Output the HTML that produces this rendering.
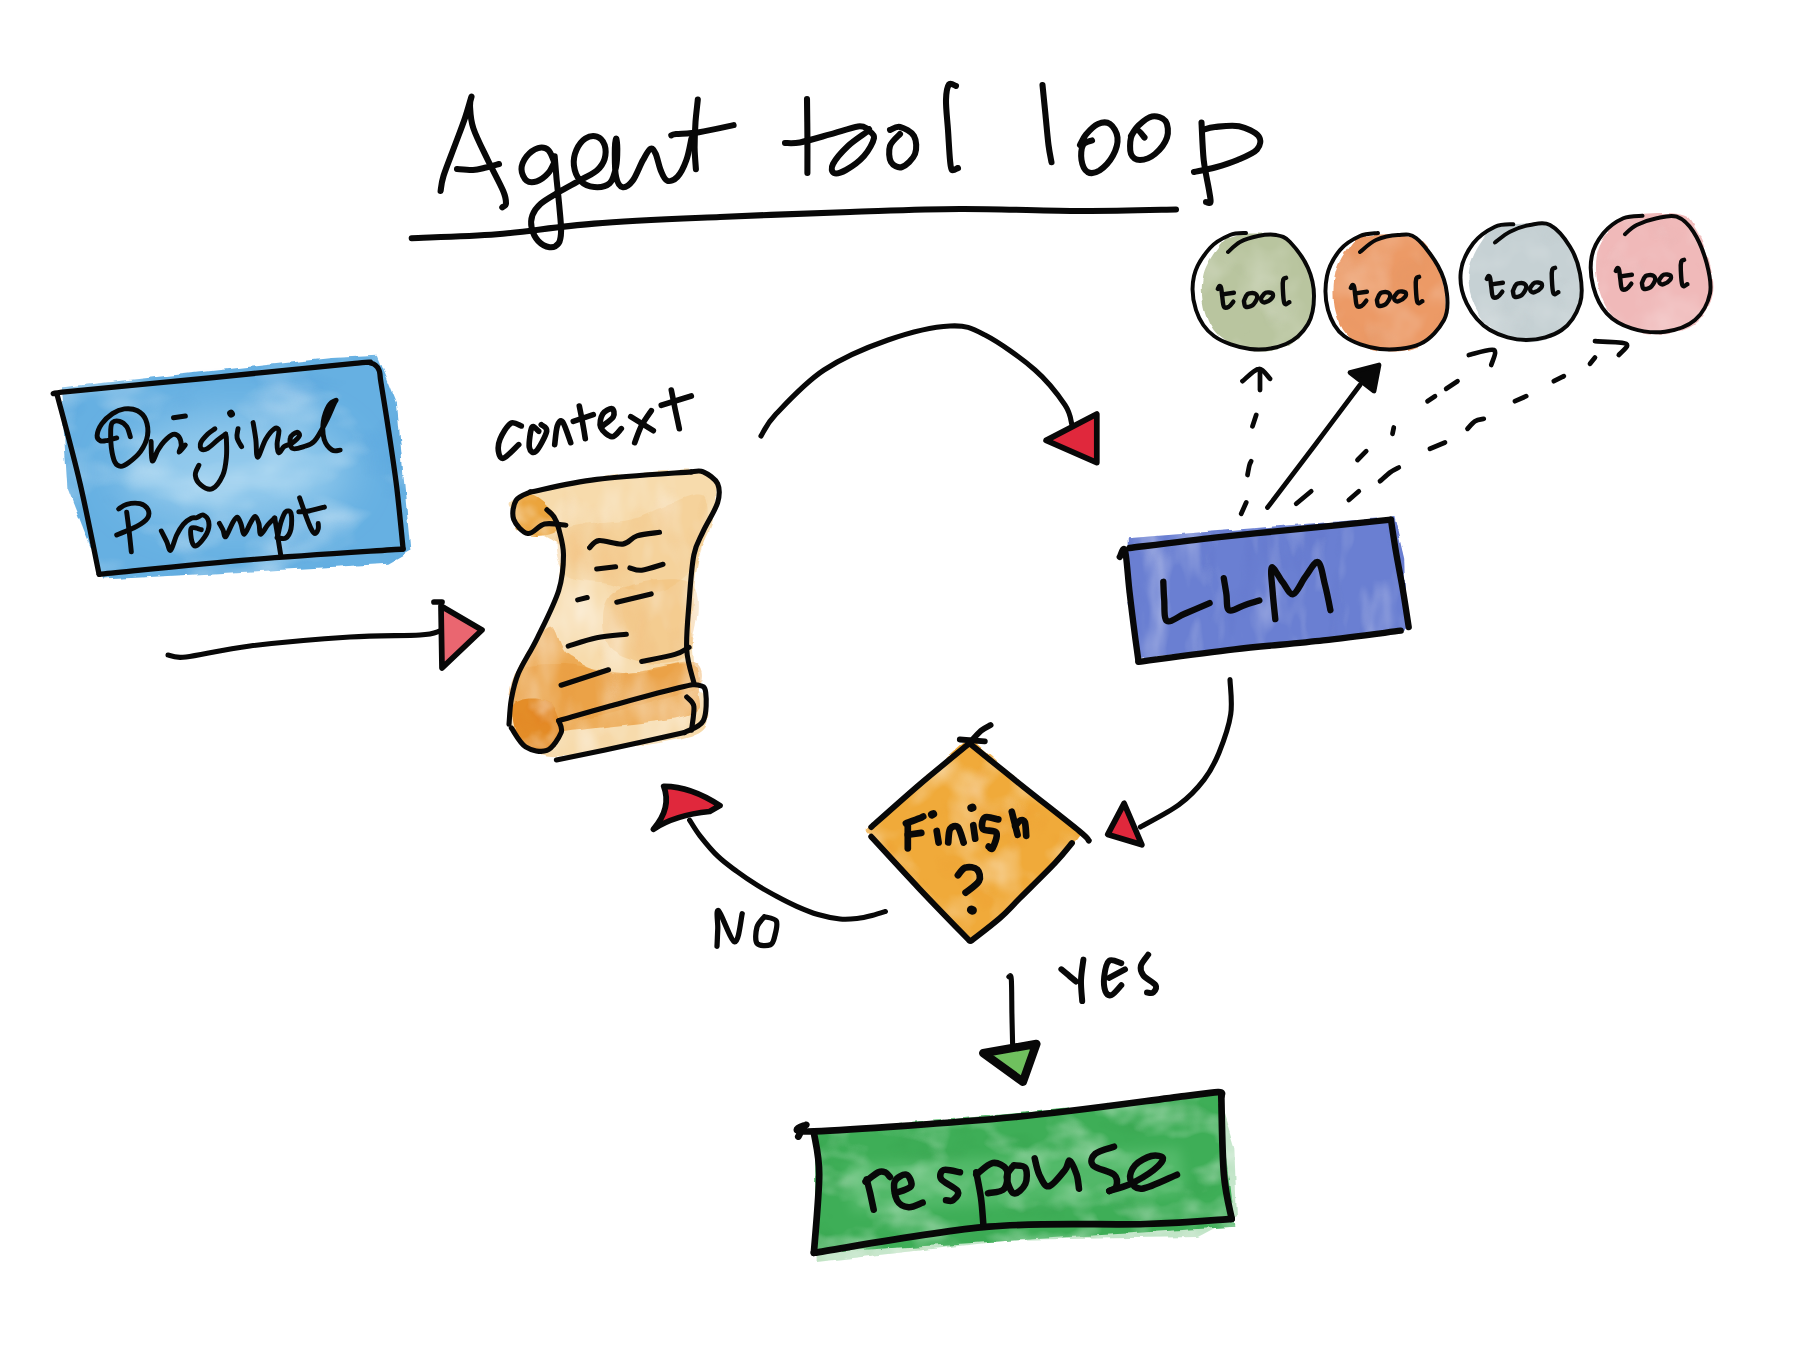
<!DOCTYPE html>
<html><head><meta charset="utf-8"><title>Agent tool loop</title>
<style>html,body{margin:0;padding:0;background:#fff;}body{width:1800px;height:1350px;overflow:hidden;font-family:"Liberation Sans",sans-serif;}svg{display:block;}</style>
</head><body>
<svg width="1800" height="1350" viewBox="0 0 1800 1350">
<defs><filter id="blur6" x="-20%" y="-50%" width="140%" height="200%"><feGaussianBlur stdDeviation="6"/></filter><filter id="blur20" x="-50%" y="-50%" width="200%" height="200%"><feGaussianBlur stdDeviation="22"/></filter>
<filter id="wcA" x="-10%" y="-10%" width="120%" height="120%" color-interpolation-filters="sRGB">
  <feTurbulence type="fractalNoise" baseFrequency="0.06" numOctaves="2" seed="3" result="edge"/>
  <feDisplacementMap in="SourceGraphic" in2="edge" scale="5" xChannelSelector="R" yChannelSelector="G" result="d"/>
  <feTurbulence type="fractalNoise" baseFrequency="0.03" numOctaves="3" seed="7" result="tex"/>
  <feColorMatrix in="tex" type="matrix" values="0 0 0 0 1  0 0 0 0 1  0 0 0 0 1  -1.1 0 0 0 0.6" result="w"/>
  <feComposite in="w" in2="d" operator="in" result="wd"/>
  <feComponentTransfer in="d" result="dk"><feFuncR type="linear" slope="0.99"/><feFuncG type="linear" slope="0.86"/><feFuncB type="linear" slope="0.7"/></feComponentTransfer>
  <feColorMatrix in="tex" type="matrix" values="0 0 0 0 0  0 0 0 0 0  0 0 0 0 0  0 1.0 0 0 -0.55" result="mk"/>
  <feComposite in="dk" in2="mk" operator="in" result="dkm"/>
  <feComposite in="dkm" in2="d" operator="in" result="dkm2"/>
  <feMerge><feMergeNode in="d"/><feMergeNode in="dkm2"/><feMergeNode in="wd"/></feMerge>
</filter>
<filter id="wcC" x="-10%" y="-10%" width="120%" height="120%" color-interpolation-filters="sRGB">
  <feTurbulence type="fractalNoise" baseFrequency="0.07" numOctaves="2" seed="5" result="edge"/>
  <feDisplacementMap in="SourceGraphic" in2="edge" scale="4" xChannelSelector="R" yChannelSelector="G" result="d"/>
  <feTurbulence type="fractalNoise" baseFrequency="0.02" numOctaves="3" seed="9" result="tex"/>
  <feColorMatrix in="tex" type="matrix" values="0 0 0 0 1  0 0 0 0 1  0 0 0 0 1  -0.6 0 0 0 0.33" result="w"/>
  <feComposite in="w" in2="d" operator="in" result="wd"/>
  <feComponentTransfer in="d" result="dk"><feFuncR type="linear" slope="0.9"/><feFuncG type="linear" slope="0.9"/><feFuncB type="linear" slope="0.9"/></feComponentTransfer>
  <feColorMatrix in="tex" type="matrix" values="0 0 0 0 0  0 0 0 0 0  0 0 0 0 0  0 0.5 0 0 -0.28" result="mk"/>
  <feComposite in="dk" in2="mk" operator="in" result="dkm"/>
  <feComposite in="dkm" in2="d" operator="in" result="dkm2"/>
  <feMerge><feMergeNode in="d"/><feMergeNode in="dkm2"/><feMergeNode in="wd"/></feMerge>
</filter>
<filter id="wcL" x="-10%" y="-10%" width="120%" height="120%" color-interpolation-filters="sRGB">
  <feTurbulence type="fractalNoise" baseFrequency="0.08" numOctaves="2" seed="9" result="edge"/>
  <feDisplacementMap in="SourceGraphic" in2="edge" scale="5" xChannelSelector="R" yChannelSelector="G" result="d"/>
  <feTurbulence type="fractalNoise" baseFrequency="0.035 0.012" numOctaves="3" seed="13" result="tex"/>
  <feColorMatrix in="tex" type="matrix" values="0 0 0 0 1  0 0 0 0 1  0 0 0 0 1  -0.9 0 0 0 0.45" result="w"/>
  <feComposite in="w" in2="d" operator="in" result="wd"/>
  <feComponentTransfer in="d" result="dk"><feFuncR type="linear" slope="0.88"/><feFuncG type="linear" slope="0.88"/><feFuncB type="linear" slope="0.95"/></feComponentTransfer>
  <feColorMatrix in="tex" type="matrix" values="0 0 0 0 0  0 0 0 0 0  0 0 0 0 0  0 1.0 0 0 -0.55" result="mk"/>
  <feComposite in="dk" in2="mk" operator="in" result="dkm"/>
  <feComposite in="dkm" in2="d" operator="in" result="dkm2"/>
  <feMerge><feMergeNode in="d"/><feMergeNode in="dkm2"/><feMergeNode in="wd"/></feMerge>
</filter>
<filter id="wcS" x="-10%" y="-10%" width="120%" height="120%" color-interpolation-filters="sRGB">
  <feTurbulence type="fractalNoise" baseFrequency="0.05" numOctaves="2" seed="11" result="edge"/>
  <feDisplacementMap in="SourceGraphic" in2="edge" scale="6" xChannelSelector="R" yChannelSelector="G" result="d"/>
  <feTurbulence type="fractalNoise" baseFrequency="0.025 0.012" numOctaves="3" seed="15" result="tex"/>
  <feColorMatrix in="tex" type="matrix" values="0 0 0 0 1  0 0 0 0 1  0 0 0 0 1  -1.1 0 0 0 0.6" result="w"/>
  <feComposite in="w" in2="d" operator="in" result="wd"/>
  <feComponentTransfer in="d" result="dk"><feFuncR type="linear" slope="0.99"/><feFuncG type="linear" slope="0.86"/><feFuncB type="linear" slope="0.7"/></feComponentTransfer>
  <feColorMatrix in="tex" type="matrix" values="0 0 0 0 0  0 0 0 0 0  0 0 0 0 0  0 1.0 0 0 -0.55" result="mk"/>
  <feComposite in="dk" in2="mk" operator="in" result="dkm"/>
  <feComposite in="dkm" in2="d" operator="in" result="dkm2"/>
  <feMerge><feMergeNode in="d"/><feMergeNode in="dkm2"/><feMergeNode in="wd"/></feMerge>
</filter>
<filter id="wcP" x="-10%" y="-10%" width="120%" height="120%" color-interpolation-filters="sRGB">
  <feTurbulence type="fractalNoise" baseFrequency="0.06" numOctaves="2" seed="13" result="edge"/>
  <feDisplacementMap in="SourceGraphic" in2="edge" scale="6" xChannelSelector="R" yChannelSelector="G" result="d"/>
  <feTurbulence type="fractalNoise" baseFrequency="0.012 0.02" numOctaves="3" seed="17" result="tex"/>
  <feColorMatrix in="tex" type="matrix" values="0 0 0 0 1  0 0 0 0 1  0 0 0 0 1  -1.1 0 0 0 0.6" result="w"/>
  <feComposite in="w" in2="d" operator="in" result="wd"/>
  <feComponentTransfer in="d" result="dk"><feFuncR type="linear" slope="0.8"/><feFuncG type="linear" slope="0.9"/><feFuncB type="linear" slope="0.97"/></feComponentTransfer>
  <feColorMatrix in="tex" type="matrix" values="0 0 0 0 0  0 0 0 0 0  0 0 0 0 0  0 1.0 0 0 -0.55" result="mk"/>
  <feComposite in="dk" in2="mk" operator="in" result="dkm"/>
  <feComposite in="dkm" in2="d" operator="in" result="dkm2"/>
  <feMerge><feMergeNode in="d"/><feMergeNode in="dkm2"/><feMergeNode in="wd"/></feMerge>
</filter>
<filter id="wcD" x="-10%" y="-10%" width="120%" height="120%" color-interpolation-filters="sRGB">
  <feTurbulence type="fractalNoise" baseFrequency="0.07" numOctaves="2" seed="17" result="edge"/>
  <feDisplacementMap in="SourceGraphic" in2="edge" scale="5" xChannelSelector="R" yChannelSelector="G" result="d"/>
  <feTurbulence type="fractalNoise" baseFrequency="0.02" numOctaves="3" seed="21" result="tex"/>
  <feColorMatrix in="tex" type="matrix" values="0 0 0 0 1  0 0 0 0 1  0 0 0 0 1  -1.1 0 0 0 0.6" result="w"/>
  <feComposite in="w" in2="d" operator="in" result="wd"/>
  <feComponentTransfer in="d" result="dk"><feFuncR type="linear" slope="0.99"/><feFuncG type="linear" slope="0.86"/><feFuncB type="linear" slope="0.7"/></feComponentTransfer>
  <feColorMatrix in="tex" type="matrix" values="0 0 0 0 0  0 0 0 0 0  0 0 0 0 0  0 1.0 0 0 -0.55" result="mk"/>
  <feComposite in="dk" in2="mk" operator="in" result="dkm"/>
  <feComposite in="dkm" in2="d" operator="in" result="dkm2"/>
  <feMerge><feMergeNode in="d"/><feMergeNode in="dkm2"/><feMergeNode in="wd"/></feMerge>
</filter>
<filter id="wcR" x="-10%" y="-10%" width="120%" height="120%" color-interpolation-filters="sRGB">
  <feTurbulence type="fractalNoise" baseFrequency="0.07" numOctaves="2" seed="21" result="edge"/>
  <feDisplacementMap in="SourceGraphic" in2="edge" scale="6" xChannelSelector="R" yChannelSelector="G" result="d"/>
  <feTurbulence type="fractalNoise" baseFrequency="0.02 0.03" numOctaves="3" seed="25" result="tex"/>
  <feColorMatrix in="tex" type="matrix" values="0 0 0 0 1  0 0 0 0 1  0 0 0 0 1  -1.1 0 0 0 0.6" result="w"/>
  <feComposite in="w" in2="d" operator="in" result="wd"/>
  <feComponentTransfer in="d" result="dk"><feFuncR type="linear" slope="0.85"/><feFuncG type="linear" slope="0.9"/><feFuncB type="linear" slope="0.85"/></feComponentTransfer>
  <feColorMatrix in="tex" type="matrix" values="0 0 0 0 0  0 0 0 0 0  0 0 0 0 0  0 1.0 0 0 -0.55" result="mk"/>
  <feComposite in="dk" in2="mk" operator="in" result="dkm"/>
  <feComposite in="dkm" in2="d" operator="in" result="dkm2"/>
  <feMerge><feMergeNode in="d"/><feMergeNode in="dkm2"/><feMergeNode in="wd"/></feMerge>
</filter></defs>
<rect width="1800" height="1350" fill="#fff"/>
<g><path d="M1236.1,234.9 C1226.0,237.1 1223.2,241.2 1217.7,248.2 C1212.2,255.2 1205.1,266.2 1203.0,276.7 C1200.8,287.3 1201.8,301.2 1204.8,311.4 C1207.9,321.6 1213.1,331.3 1221.4,337.9 C1229.7,344.6 1243.5,349.8 1254.5,351.2 C1265.5,352.6 1278.7,350.4 1287.6,346.1 C1296.5,341.9 1303.6,333.9 1307.9,325.7 C1312.2,317.5 1313.4,306.7 1313.4,297.1 C1313.4,287.6 1311.5,277.8 1307.9,268.6 C1304.2,259.4 1296.2,247.7 1291.3,242.1 C1286.4,236.5 1287.6,236.1 1278.4,234.9 C1269.2,233.7 1246.2,232.7 1236.1,234.9 Z" fill="#b9c59f" stroke="none" filter="url(#wcC)" />
<path d="M1365.1,235.9 C1353.4,237.9 1351.7,243.3 1346.7,250.1 C1341.6,256.9 1336.5,266.5 1334.7,276.7 C1332.9,286.9 1333.0,301.1 1335.6,311.3 C1338.2,321.5 1342.4,331.2 1350.3,337.9 C1358.3,344.5 1371.8,349.8 1383.5,351.1 C1395.1,352.5 1410.5,351.0 1420.3,346.0 C1430.1,341.1 1438.2,330.0 1442.3,321.5 C1446.5,313.0 1446.0,304.2 1445.1,295.0 C1444.2,285.8 1441.6,276.0 1436.8,266.5 C1432.1,256.9 1428.5,243.0 1416.6,237.9 C1404.6,232.8 1376.7,233.8 1365.1,235.9 Z" fill="#ec9a66" stroke="none" filter="url(#wcC)" />
<path d="M1500.2,226.6 C1488.5,229.7 1485.6,235.9 1480.3,243.6 C1475.1,251.2 1469.8,262.3 1468.8,272.5 C1467.8,282.7 1469.7,294.9 1474.2,304.8 C1478.7,314.7 1486.4,325.7 1495.6,332.0 C1504.8,338.2 1518.4,342.2 1529.4,342.2 C1540.4,342.2 1553.4,338.2 1561.6,332.0 C1569.8,325.7 1575.6,314.4 1578.4,304.8 C1581.3,295.1 1580.0,283.8 1578.4,274.2 C1576.9,264.5 1573.8,255.2 1569.2,247.0 C1564.6,238.8 1562.3,228.3 1550.8,224.9 C1539.3,221.5 1512.0,223.5 1500.2,226.6 Z" fill="#c6d1d4" stroke="none" filter="url(#wcC)" />
<path d="M1627.9,216.1 C1615.9,219.0 1613.4,225.0 1608.3,231.7 C1603.1,238.3 1598.5,246.7 1596.8,256.0 C1595.2,265.2 1596.0,277.3 1598.5,287.2 C1600.9,297.0 1605.3,307.7 1611.5,314.9 C1617.8,322.1 1626.5,327.3 1636.0,330.5 C1645.6,333.7 1658.3,335.4 1668.7,334.0 C1679.0,332.5 1690.7,328.5 1698.1,321.8 C1705.4,315.2 1710.9,303.9 1712.8,294.1 C1714.7,284.3 1712.2,273.6 1709.5,262.9 C1706.8,252.2 1701.4,238.0 1696.5,230.0 C1691.6,221.9 1691.6,216.7 1680.1,214.4 C1668.7,212.0 1639.8,213.2 1627.9,216.1 Z" fill="#f0b9b9" stroke="none" filter="url(#wcC)" />
<path d="M1127.8,538.2 L1394.4,516.9 L1404.2,558.7 L1406.0,631.6 L1138.4,659.1 L1126.9,592.4 Z" fill="#6a7fd2" stroke="none" filter="url(#wcL)" />
<path d="M516.1,497.9 C530.1,492.2 567.0,482.3 596.7,477.8 C626.3,473.2 674.1,469.7 693.9,470.7 C713.6,471.7 712.0,475.2 715.2,483.7 C718.3,492.2 715.6,509.0 712.8,521.6 C710.0,534.3 702.1,542.2 698.6,559.6 C695.0,576.9 691.9,605.0 691.5,625.9 C691.1,646.9 693.9,673.3 696.2,685.2 C698.6,697.0 705.3,689.1 705.7,697.0 C706.1,704.9 714.8,723.7 698.6,732.6 C682.4,741.5 632.2,746.4 608.5,750.4 C584.8,754.3 570.2,756.7 556.4,756.3 C542.5,755.9 533.3,753.1 525.6,748.0 C517.9,742.9 511.7,737.9 510.1,725.5 C508.6,713.0 509.2,692.3 516.1,673.3 C523.0,654.4 544.1,631.5 551.6,611.7 C559.1,592.0 561.9,567.5 561.1,554.8 C560.3,542.2 554.0,539.8 546.9,535.9 C539.8,531.9 524.2,535.1 518.4,531.1 C512.7,527.2 512.9,517.7 512.5,512.1 C512.1,506.6 502.0,503.7 516.1,497.9 Z" fill="#f7dbac" stroke="none" filter="url(#wcS)" />
<path d="M561.1,531.1 C572.2,522.0 608.5,525.2 632.2,519.3 C655.9,513.3 692.3,488.8 703.3,495.6 C714.4,502.3 706.5,543.4 698.6,559.6 C690.7,575.8 670.9,588.8 655.9,592.7 C640.9,596.7 623.5,586.4 608.5,583.3 C593.5,580.1 573.8,582.5 565.9,573.8 C558.0,565.1 550.0,540.2 561.1,531.1 Z" fill="#f3c887" stroke="none" filter="url(#wcS)" opacity="0.45"/>
<path d="M613.3,592.7 C627.1,582.5 678.8,573.8 691.5,583.3 C704.1,592.7 695.0,636.2 689.1,649.6 C683.2,663.1 669.4,664.6 655.9,663.9 C642.5,663.1 615.6,656.7 608.5,644.9 C601.4,633.0 599.4,603.0 613.3,592.7 Z" fill="#f1bb70" stroke="none" filter="url(#wcS)" opacity="0.45"/>
<path d="M518.4,668.6 C524.6,653.6 541.0,628.3 549.3,625.9 C557.6,623.6 557.6,646.5 568.2,654.4 C578.9,662.3 593.1,671.8 613.3,673.3 C633.4,674.9 674.9,660.7 689.1,663.9 C703.3,667.0 699.4,683.6 698.6,692.3 C697.8,701.0 707.3,709.3 684.4,716.0 C661.5,722.7 587.6,727.9 561.1,732.6 C534.6,737.3 533.7,747.2 525.6,744.4 C517.5,741.7 513.7,728.6 512.5,716.0 C511.3,703.4 512.3,683.6 518.4,668.6 Z" fill="#eda64c" stroke="none" filter="url(#wcS)" opacity="0.9"/>
<path d="M516.1,673.3 C524.0,663.9 541.8,663.9 561.1,663.9 C580.5,663.9 610.5,673.7 632.2,673.3 C654.0,672.9 680.8,659.1 691.5,661.5 C702.1,663.9 706.1,680.0 696.2,687.6 C686.3,695.1 654.7,700.6 632.2,706.5 C609.7,712.4 580.9,720.7 561.1,723.1 C541.4,725.5 521.2,729.0 513.7,720.7 C506.2,712.4 508.2,682.8 516.1,673.3 Z" fill="#ea9c3c" stroke="none" filter="url(#wcS)" opacity="0.55"/>
<path d="M512.5,505.0 C514.5,499.1 521.8,492.8 527.9,493.2 C534.0,493.6 544.1,501.5 549.3,507.4 C554.4,513.3 560.7,524.0 558.7,528.7 C556.8,533.5 544.5,535.9 537.4,535.9 C530.3,535.9 520.2,533.9 516.1,528.7 C511.9,523.6 510.5,511.0 512.5,505.0 Z" fill="#eba43c" stroke="none" filter="url(#wcA)" />
<path d="M513.7,704.1 C518.4,697.4 541.4,697.0 549.3,701.8 C557.2,706.5 561.5,724.5 561.1,732.6 C560.7,740.7 553.6,748.8 546.9,750.4 C540.2,752.0 526.3,749.8 520.8,742.1 C515.3,734.4 509.0,710.9 513.7,704.1 Z" fill="#e48d28" stroke="none" filter="url(#wcA)" />
<path d="M61.1,387.5 L331.3,357.9 L377.8,355.8 L396.8,403.3 L410.5,551.1 L388.3,563.8 L103.3,579.6 L67.4,487.8 Z" fill="#66b0e2" stroke="none" filter="url(#wcP)" />
<ellipse cx="235" cy="470" rx="115" ry="55" fill="#b5def4" opacity="0.55" filter="url(#blur20)"/>
<path d="M969.4,737.6 L1081.1,834.8 L1071.5,846.4 L971.3,943.1 L864.4,831.0 Z" fill="#f0aa3a" stroke="none" filter="url(#wcD)" />
<path d="M816.6,1135.3 L1218.6,1096.1 L1234.3,1148.3 L1236.9,1216.2 L1197.8,1237.1 L1015.0,1239.7 L816.6,1261.9 Z" fill="#8fd09a" stroke="none" filter="url(#wcA)" opacity="0.55"/>
<path d="M815.2,1131.4 L1218.6,1094.8 L1234.3,1226.7 L815.2,1252.8 Z" fill="#3eae57" stroke="none" filter="url(#wcR)" />
<path d="M848,1165 L1180,1148 L1186,1195 L852,1212 Z" fill="#6cc880" opacity="0.45" filter="url(#blur6)"/></g>
<g fill="none" stroke-linecap="round" stroke-linejoin="round"><path d="M440.6,191.0 C441.1,188.5 441.1,183.7 443.5,176.0 C445.9,168.3 451.4,154.7 455.0,145.0 C458.6,135.3 462.3,126.0 465.0,118.0 C467.7,110.0 470.6,99.0 471.4,97.0 C472.2,95.0 469.7,100.8 470.0,106.0 C470.3,111.2 470.4,119.4 473.4,128.4 C476.4,137.4 482.8,149.6 487.8,160.0 C492.8,170.4 500.2,183.8 503.2,191.0 C506.2,198.2 506.1,200.8 506.0,203.5 C505.9,206.2 502.9,206.7 502.3,207.3" stroke="#080808" stroke-width="6.07" />
<path d="M457.0,169.0 C459.7,169.2 468.2,170.2 473.0,170.0 C477.8,169.8 481.7,168.5 486.0,167.5 C490.3,166.5 496.8,164.6 499.0,164.0" stroke="#080808" stroke-width="6.07" />
<path d="M554.1,161.6 C553.1,159.6 551.0,152.3 548.3,150.1 C545.7,147.8 541.7,147.1 538.1,148.1 C534.5,149.2 529.4,152.9 526.6,156.4 C523.8,160.0 521.5,165.2 521.5,169.2 C521.5,173.3 524.1,178.7 526.6,180.7 C529.2,182.7 533.2,182.6 536.8,181.4 C540.5,180.1 545.4,176.4 548.3,173.1 C551.3,169.8 553.7,163.5 554.7,161.6" stroke="#080808" stroke-width="6.07" />
<path d="M554.7,156.4 C555.0,160.3 555.9,171.4 556.6,179.4 C557.4,187.5 558.4,196.5 559.2,205.0 C559.9,213.5 561.2,224.2 561.1,230.6 C561.0,236.9 560.5,240.6 558.6,243.3 C556.6,246.1 553.0,247.6 549.6,247.2 C546.2,246.7 541.1,244.0 538.1,240.8 C535.1,237.6 532.7,232.3 531.7,228.0 C530.8,223.7 530.9,219.3 532.4,215.2 C533.9,211.2 536.3,207.6 540.7,203.7 C545.0,199.9 551.7,196.3 558.6,192.2 C565.4,188.2 575.2,183.1 581.6,179.4 C587.9,175.8 593.1,173.9 596.9,170.5 C600.7,167.1 603.3,163.3 604.6,159.0 C605.8,154.7 605.8,148.7 604.6,144.9 C603.3,141.2 600.1,137.7 596.9,136.6 C593.7,135.6 588.8,136.3 585.4,138.6 C582.0,140.8 578.4,145.6 576.4,150.1 C574.5,154.5 573.3,160.3 573.9,165.4 C574.5,170.5 576.9,177.1 580.3,180.7 C583.7,184.3 589.4,186.7 594.3,187.1 C599.2,187.5 606.0,186.7 609.7,183.3 C613.3,179.9 614.8,172.4 616.1,166.7 C617.3,160.9 617.3,153.5 617.3,148.8 C617.3,144.1 616.5,137.7 616.1,138.6 C615.6,139.4 614.8,147.5 614.8,153.9 C614.8,160.3 614.8,171.4 616.1,176.9 C617.3,182.4 619.7,186.5 622.4,187.1 C625.2,187.8 629.3,185.2 632.7,180.7 C636.1,176.3 639.9,165.6 642.9,160.3 C645.9,155.0 648.4,149.8 650.6,148.8 C652.7,147.7 654.0,150.3 655.7,153.9 C657.4,157.5 658.9,166.0 660.8,170.5 C662.7,175.0 664.4,179.7 667.2,180.7 C669.9,181.8 674.2,180.3 677.4,176.9 C680.6,173.5 684.0,166.7 686.3,160.3 C688.7,153.9 690.6,142.2 691.4,138.6" stroke="#080808" stroke-width="6.07" />
<path d="M697.8,99.6 C697.5,103.3 696.1,114.0 695.5,121.9 C695.0,129.9 694.6,139.6 694.6,147.5 C694.7,155.4 695.7,165.6 695.9,169.2" stroke="#080808" stroke-width="6.07" />
<path d="M671.3,135.4 C672.1,135.1 671.5,134.6 676.1,134.1 C680.8,133.6 689.5,133.7 699.1,132.2 C708.7,130.7 727.9,126.3 733.6,125.1" stroke="#080808" stroke-width="6.07" />
<path d="M807.0,99.0 C807.1,105.2 807.3,123.7 807.4,136.0 C807.5,148.3 807.4,166.8 807.4,173.0" stroke="#080808" stroke-width="6.07" />
<path d="M785.0,143.0 C787.5,142.9 792.5,143.8 800.0,142.4 C807.5,141.0 820.3,137.1 830.0,134.4 C839.7,131.7 851.7,127.3 858.0,126.4 C864.3,125.5 866.3,128.6 868.0,129.0" stroke="#080808" stroke-width="6.07" />
<path d="M868.0,130.0 C869.0,131.2 874.7,133.7 874.0,138.0 C873.3,142.3 868.7,150.7 864.0,156.0 C859.3,161.3 851.0,167.2 846.0,170.0 C841.0,172.8 836.2,174.0 834.0,173.0 C831.8,172.0 830.7,168.5 833.0,164.0 C835.3,159.5 842.2,151.5 848.0,146.0 C853.8,140.5 864.7,133.7 868.0,131.0 C871.3,128.3 867.0,128.8 868.0,130.0 Z" stroke="#080808" stroke-width="6.07" />
<path d="M890.0,130.0 C891.7,129.5 896.0,126.0 900.0,127.0 C904.0,128.0 911.5,131.5 914.0,136.0 C916.5,140.5 917.0,148.8 915.0,154.0 C913.0,159.2 906.0,165.7 902.0,167.0 C898.0,168.3 893.0,165.5 891.0,162.0 C889.0,158.5 888.5,150.7 890.0,146.0 C891.5,141.3 898.3,136.0 900.0,134.0" stroke="#080808" stroke-width="6.07" />
<path d="M956.0,86.0 C954.8,85.7 950.7,82.1 949.0,84.4 C947.3,86.7 946.2,92.4 946.0,100.0 C945.8,107.6 947.3,120.0 948.0,130.0 C948.7,140.0 949.3,153.3 950.0,160.0 C950.7,166.7 950.7,168.7 952.0,170.0 C953.3,171.3 957.0,168.3 958.0,168.0" stroke="#080808" stroke-width="6.07" />
<path d="M1042.5,85.0 C1043.0,90.0 1044.5,105.0 1045.5,115.0 C1046.5,125.0 1047.5,137.1 1048.5,145.0 C1049.5,152.9 1051.0,159.4 1051.5,162.2" stroke="#080808" stroke-width="6.07" />
<path d="M1092.0,140.5 C1090.5,141.2 1084.7,141.7 1083.0,145.0 C1081.2,148.2 1080.7,155.5 1081.5,160.0 C1082.2,164.5 1084.5,170.2 1087.5,172.0 C1090.5,173.7 1095.2,173.2 1099.5,170.5 C1103.7,167.7 1110.0,161.0 1113.0,155.5 C1116.0,150.0 1118.0,142.7 1117.5,137.5 C1117.0,132.2 1113.2,126.2 1110.0,124.0 C1106.7,121.7 1102.0,122.2 1098.0,124.0 C1094.0,125.7 1089.0,131.0 1086.0,134.5 C1083.0,138.0 1081.0,143.2 1080.0,145.0" stroke="#080808" stroke-width="6.07" />
<path d="M1144.5,137.5 C1143.2,136.2 1139.2,130.0 1137.0,130.0 C1134.7,130.0 1132.0,133.5 1131.0,137.5 C1130.0,141.5 1129.5,150.2 1131.0,154.0 C1132.5,157.7 1136.0,160.0 1140.0,160.0 C1144.0,160.0 1150.5,157.7 1155.0,154.0 C1159.5,150.2 1165.2,143.0 1167.0,137.5 C1168.7,132.0 1168.0,124.5 1165.5,121.0 C1163.0,117.5 1156.5,115.7 1152.0,116.5 C1147.5,117.2 1142.0,122.2 1138.5,125.5 C1135.0,128.7 1132.2,134.2 1131.0,136.0" stroke="#080808" stroke-width="6.07" />
<path d="M1201.5,122.5 C1201.9,128.7 1202.5,148.7 1203.7,160.0 C1205.0,171.2 1207.9,183.0 1209.0,190.0 C1210.1,197.0 1211.0,200.0 1210.5,202.0 C1210.0,204.0 1206.7,202.0 1206.0,202.0" stroke="#080808" stroke-width="6.07" />
<path d="M1202.2,130.0 C1204.4,129.5 1208.9,127.6 1215.0,127.0 C1221.1,126.4 1231.7,124.7 1239.0,126.2 C1246.2,127.7 1255.5,132.1 1258.5,136.0 C1261.5,139.9 1260.5,145.5 1257.0,149.5 C1253.5,153.5 1244.5,157.0 1237.5,160.0 C1230.5,163.0 1222.2,165.5 1215.0,167.5 C1207.7,169.5 1197.5,171.2 1194.0,172.0" stroke="#080808" stroke-width="6.07" />
<path d="M411.7,238.2 C425.9,237.5 466.6,236.7 497.0,234.3 C527.4,231.9 556.8,226.5 594.0,223.6 C631.2,220.7 677.3,218.9 720.0,217.0 C762.7,215.1 810.0,213.3 850.0,212.0 C890.0,210.7 921.7,209.2 960.0,209.0 C998.3,208.8 1044.0,210.9 1080.0,211.0 C1116.0,211.1 1160.0,209.8 1176.0,209.5" stroke="#080808" stroke-width="6.07" />
<path d="M1246.0,233.0 C1243.3,233.3 1236.0,232.5 1230.0,235.0 C1224.0,237.5 1216.0,241.2 1210.0,248.0 C1204.0,254.8 1196.3,265.7 1194.0,276.0 C1191.7,286.3 1192.7,300.0 1196.0,310.0 C1199.3,320.0 1205.0,329.5 1214.0,336.0 C1223.0,342.5 1238.0,347.7 1250.0,349.0 C1262.0,350.3 1276.3,348.2 1286.0,344.0 C1295.7,339.8 1303.3,332.0 1308.0,324.0 C1312.7,316.0 1314.0,305.3 1314.0,296.0 C1314.0,286.7 1312.0,277.0 1308.0,268.0 C1304.0,259.0 1295.3,247.5 1290.0,242.0 C1284.7,236.5 1281.3,236.0 1276.0,235.0 C1270.7,234.0 1264.0,234.8 1258.0,236.0 C1252.0,237.2 1245.0,239.3 1240.0,242.0 C1235.0,244.7 1230.0,250.3 1228.0,252.0" stroke="#080808" stroke-width="3.96" />
<path d="M1378.0,233.0 C1375.0,233.5 1366.3,233.2 1360.0,236.0 C1353.7,238.8 1345.5,243.3 1340.0,250.0 C1334.5,256.7 1329.0,266.0 1327.0,276.0 C1325.0,286.0 1325.2,300.0 1328.0,310.0 C1330.8,320.0 1335.3,329.5 1344.0,336.0 C1352.7,342.5 1367.3,347.7 1380.0,349.0 C1392.7,350.3 1409.3,348.8 1420.0,344.0 C1430.7,339.2 1439.5,328.3 1444.0,320.0 C1448.5,311.7 1448.0,303.0 1447.0,294.0 C1446.0,285.0 1443.2,275.3 1438.0,266.0 C1432.8,256.7 1422.7,243.2 1416.0,238.0 C1409.3,232.8 1404.7,234.7 1398.0,235.0 C1391.3,235.3 1382.3,237.2 1376.0,240.0 C1369.7,242.8 1362.7,250.0 1360.0,252.0" stroke="#080808" stroke-width="3.96" />
<path d="M1513.3,224.2 C1510.3,224.6 1501.7,223.5 1495.0,226.7 C1488.3,229.9 1479.0,235.8 1473.3,243.3 C1467.6,250.8 1461.9,261.7 1460.8,271.7 C1459.7,281.7 1461.8,293.6 1466.7,303.3 C1471.5,313.1 1480.0,323.9 1490.0,330.0 C1500.0,336.1 1514.7,340.0 1526.7,340.0 C1538.6,340.0 1552.8,336.1 1561.7,330.0 C1570.6,323.9 1576.9,312.8 1580.0,303.3 C1583.1,293.9 1581.7,282.8 1580.0,273.3 C1578.3,263.9 1575.0,254.7 1570.0,246.7 C1565.0,238.6 1556.7,228.6 1550.0,225.0 C1543.3,221.4 1536.7,223.9 1530.0,225.0 C1523.3,226.1 1515.8,228.8 1510.0,231.7 C1504.2,234.6 1497.5,240.7 1495.0,242.5" stroke="#080808" stroke-width="3.96" />
<path d="M1642.5,215.8 C1639.3,216.2 1629.9,215.4 1623.3,218.3 C1616.8,221.2 1608.6,226.9 1603.3,233.3 C1598.1,239.7 1593.3,247.8 1591.7,256.7 C1590.0,265.6 1590.8,277.2 1593.3,286.7 C1595.8,296.1 1600.3,306.4 1606.7,313.3 C1613.1,320.3 1621.9,325.3 1631.7,328.3 C1641.4,331.4 1654.4,333.1 1665.0,331.7 C1675.6,330.3 1687.5,326.4 1695.0,320.0 C1702.5,313.6 1708.1,302.8 1710.0,293.3 C1711.9,283.9 1709.4,273.6 1706.7,263.3 C1703.9,253.1 1698.3,239.4 1693.3,231.7 C1688.3,223.9 1682.8,218.9 1676.7,216.7 C1670.6,214.4 1663.3,216.9 1656.7,218.3 C1650.0,219.7 1641.9,222.4 1636.7,225.0 C1631.4,227.6 1626.9,232.6 1625.0,234.2" stroke="#080808" stroke-width="3.96" />
<path d="M1217.8,288.9 C1218.1,288.4 1218.9,286.3 1219.4,286.1 C1220.0,285.9 1220.6,286.1 1221.1,287.8 C1221.6,289.4 1221.8,293.0 1222.2,296.1 C1222.7,299.3 1222.8,304.9 1223.9,306.7 C1225.0,308.4 1227.3,307.5 1228.9,306.7 C1230.5,305.8 1232.6,302.5 1233.3,301.7" stroke="#080808" stroke-width="4.40" />
<path d="M1222.2,294.4 L1233.9,292.8" stroke="#080808" stroke-width="4.40" />
<path d="M1243.9,301.1 C1244.4,300.0 1245.5,295.7 1247.2,294.4 C1249.0,293.1 1252.8,292.8 1254.4,293.3 C1256.1,293.9 1257.6,295.7 1257.2,297.8 C1256.9,299.8 1254.2,304.1 1252.2,305.6 C1250.3,307.0 1246.9,307.4 1245.6,306.7 C1244.2,305.9 1244.2,302.0 1243.9,301.1" stroke="#080808" stroke-width="4.40" />
<path d="M1261.1,297.8 C1261.9,296.9 1263.7,293.5 1265.6,292.8 C1267.4,292.0 1271.1,292.5 1272.2,293.3 C1273.3,294.2 1273.3,296.3 1272.2,297.8 C1271.1,299.3 1267.3,301.7 1265.6,302.2 C1263.8,302.8 1262.4,301.9 1261.7,301.1 C1260.9,300.4 1261.2,298.3 1261.1,297.8" stroke="#080808" stroke-width="4.40" />
<path d="M1286.1,277.8 C1285.6,278.1 1283.9,277.8 1283.3,279.4 C1282.8,281.1 1282.6,283.8 1282.8,287.8 C1283.0,291.8 1283.3,300.9 1284.4,303.3 C1285.6,305.7 1288.6,302.4 1289.4,302.2" stroke="#080808" stroke-width="4.40" />
<path d="M1350.8,287.9 C1351.1,287.4 1351.9,285.3 1352.4,285.1 C1353.0,284.9 1353.6,285.1 1354.1,286.8 C1354.6,288.4 1354.8,292.0 1355.2,295.1 C1355.7,298.3 1355.8,303.9 1356.9,305.7 C1358.0,307.4 1360.3,306.5 1361.9,305.7 C1363.5,304.8 1365.6,301.5 1366.3,300.7" stroke="#080808" stroke-width="4.40" />
<path d="M1355.2,293.4 L1366.9,291.8" stroke="#080808" stroke-width="4.40" />
<path d="M1376.9,300.1 C1377.4,299.0 1378.5,294.7 1380.2,293.4 C1382.0,292.1 1385.8,291.8 1387.4,292.3 C1389.1,292.9 1390.6,294.7 1390.2,296.8 C1389.9,298.8 1387.2,303.1 1385.2,304.6 C1383.3,306.0 1379.9,306.4 1378.6,305.7 C1377.2,304.9 1377.2,301.0 1376.9,300.1" stroke="#080808" stroke-width="4.40" />
<path d="M1394.1,296.8 C1394.9,295.9 1396.7,292.5 1398.6,291.8 C1400.4,291.0 1404.1,291.5 1405.2,292.3 C1406.3,293.2 1406.3,295.3 1405.2,296.8 C1404.1,298.3 1400.3,300.7 1398.6,301.2 C1396.8,301.8 1395.4,300.9 1394.7,300.1 C1393.9,299.4 1394.2,297.3 1394.1,296.8" stroke="#080808" stroke-width="4.40" />
<path d="M1419.1,276.8 C1418.6,277.1 1416.9,276.8 1416.3,278.4 C1415.8,280.1 1415.6,282.8 1415.8,286.8 C1416.0,290.8 1416.3,299.9 1417.4,302.3 C1418.6,304.7 1421.6,301.4 1422.4,301.2" stroke="#080808" stroke-width="4.40" />
<path d="M1486.8,278.9 C1487.1,278.4 1487.9,276.3 1488.4,276.1 C1489.0,275.9 1489.6,276.1 1490.1,277.8 C1490.6,279.4 1490.8,283.0 1491.2,286.1 C1491.7,289.3 1491.8,294.9 1492.9,296.7 C1494.0,298.4 1496.3,297.5 1497.9,296.7 C1499.5,295.8 1501.6,292.5 1502.3,291.7" stroke="#080808" stroke-width="4.40" />
<path d="M1491.2,284.4 L1502.9,282.8" stroke="#080808" stroke-width="4.40" />
<path d="M1512.9,291.1 C1513.4,290.0 1514.5,285.7 1516.2,284.4 C1518.0,283.1 1521.8,282.8 1523.4,283.3 C1525.1,283.9 1526.6,285.7 1526.2,287.8 C1525.9,289.8 1523.2,294.1 1521.2,295.6 C1519.3,297.0 1515.9,297.4 1514.6,296.7 C1513.2,295.9 1513.2,292.0 1512.9,291.1" stroke="#080808" stroke-width="4.40" />
<path d="M1530.1,287.8 C1530.9,286.9 1532.7,283.5 1534.6,282.8 C1536.4,282.0 1540.1,282.5 1541.2,283.3 C1542.3,284.2 1542.3,286.3 1541.2,287.8 C1540.1,289.3 1536.3,291.7 1534.6,292.2 C1532.8,292.8 1531.4,291.9 1530.7,291.1 C1529.9,290.4 1530.2,288.3 1530.1,287.8" stroke="#080808" stroke-width="4.40" />
<path d="M1555.1,267.8 C1554.6,268.1 1552.9,267.8 1552.3,269.4 C1551.8,271.1 1551.6,273.8 1551.8,277.8 C1552.0,281.8 1552.3,290.9 1553.4,293.3 C1554.6,295.7 1557.6,292.4 1558.4,292.2" stroke="#080808" stroke-width="4.40" />
<path d="M1615.8,270.9 C1616.1,270.4 1616.9,268.3 1617.4,268.1 C1618.0,267.9 1618.6,268.1 1619.1,269.8 C1619.6,271.4 1619.8,275.0 1620.2,278.1 C1620.7,281.3 1620.8,286.9 1621.9,288.7 C1623.0,290.4 1625.3,289.5 1626.9,288.7 C1628.5,287.8 1630.6,284.5 1631.3,283.7" stroke="#080808" stroke-width="4.40" />
<path d="M1620.2,276.4 L1631.9,274.8" stroke="#080808" stroke-width="4.40" />
<path d="M1641.9,283.1 C1642.4,282.0 1643.5,277.7 1645.2,276.4 C1647.0,275.1 1650.8,274.8 1652.4,275.3 C1654.1,275.9 1655.6,277.7 1655.2,279.8 C1654.9,281.8 1652.2,286.1 1650.2,287.6 C1648.3,289.0 1644.9,289.4 1643.6,288.7 C1642.2,287.9 1642.2,284.0 1641.9,283.1" stroke="#080808" stroke-width="4.40" />
<path d="M1659.1,279.8 C1659.9,278.9 1661.7,275.5 1663.6,274.8 C1665.4,274.0 1669.1,274.5 1670.2,275.3 C1671.3,276.2 1671.3,278.3 1670.2,279.8 C1669.1,281.3 1665.3,283.7 1663.6,284.2 C1661.8,284.8 1660.4,283.9 1659.7,283.1 C1658.9,282.4 1659.2,280.3 1659.1,279.8" stroke="#080808" stroke-width="4.40" />
<path d="M1684.1,259.8 C1683.6,260.1 1681.9,259.8 1681.3,261.4 C1680.8,263.1 1680.6,265.8 1680.8,269.8 C1681.0,273.8 1681.3,282.9 1682.4,285.3 C1683.6,287.7 1686.6,284.4 1687.4,284.2" stroke="#080808" stroke-width="4.40" />
<path d="M1241.2,513.8 L1246.2,502.5" stroke="#080808" stroke-width="4.75" />
<path d="M1247.5,475.0 C1247.8,473.3 1248.9,467.3 1249.5,465.0 C1250.1,462.7 1251.0,461.9 1251.2,461.2" stroke="#080808" stroke-width="4.75" />
<path d="M1252.5,426.2 L1256.2,415.0" stroke="#080808" stroke-width="4.75" />
<path d="M1260.0,390.0 L1260.0,370.0" stroke="#080808" stroke-width="4.75" />
<path d="M1242.5,381.2 C1245.2,379.2 1254.2,369.2 1258.8,368.8 C1263.3,368.3 1268.1,377.1 1270.0,378.8" stroke="#080808" stroke-width="4.75" />
<path d="M1267.5,507.5 C1275.4,497.1 1299.6,465.4 1315.0,445.0 C1330.4,424.6 1352.5,395.0 1360.0,385.0" stroke="#080808" stroke-width="4.75" />
<path d="M1350.0,372.5 L1379.0,365.0 L1374.0,391.0 Z" stroke="#080808" stroke-width="4.75" stroke-linejoin="round" fill="#080808"/>
<path d="M1296.2,503.8 L1311.2,491.2" stroke="#080808" stroke-width="4.75" />
<path d="M1357.5,460.0 L1366.2,451.2" stroke="#080808" stroke-width="4.75" />
<path d="M1392.5,433.8 L1393.8,427.5" stroke="#080808" stroke-width="4.75" />
<path d="M1427.5,401.2 L1435.0,396.2" stroke="#080808" stroke-width="4.75" />
<path d="M1446.2,388.8 L1457.5,381.2" stroke="#080808" stroke-width="4.75" />
<path d="M1468.8,355.0 C1472.9,354.2 1490.0,348.3 1493.8,350.0 C1497.5,351.7 1491.7,362.5 1491.2,365.0" stroke="#080808" stroke-width="4.75" />
<path d="M1348.8,500.0 L1358.8,491.2" stroke="#080808" stroke-width="4.75" />
<path d="M1380.0,481.2 C1381.7,479.8 1386.9,474.8 1390.0,472.5 C1393.1,470.2 1397.3,468.3 1398.8,467.5" stroke="#080808" stroke-width="4.75" />
<path d="M1430.0,448.8 L1445.0,442.5" stroke="#080808" stroke-width="4.75" />
<path d="M1467.5,428.8 C1468.8,427.5 1472.3,422.9 1475.0,421.2 C1477.7,419.6 1482.3,419.2 1483.8,418.8" stroke="#080808" stroke-width="4.75" />
<path d="M1515.0,401.2 L1526.2,396.2" stroke="#080808" stroke-width="4.75" />
<path d="M1553.8,381.2 L1563.8,376.2" stroke="#080808" stroke-width="4.75" />
<path d="M1590.0,363.8 L1595.0,357.5" stroke="#080808" stroke-width="4.75" />
<path d="M1595.0,341.2 C1600.2,341.7 1622.3,341.5 1626.2,343.8 C1630.2,346.0 1620.0,353.1 1618.8,355.0" stroke="#080808" stroke-width="4.75" />
<path d="M1129.6,548.0 C1144.1,546.2 1187.3,540.6 1216.7,537.3 C1246.0,534.1 1276.5,531.4 1305.6,528.4 C1334.6,525.5 1376.7,521.0 1390.9,519.6" stroke="#080808" stroke-width="6.34" />
<path d="M1390.9,519.6 C1391.8,525.2 1394.1,541.2 1396.2,553.3 C1398.3,565.5 1401.3,580.1 1403.3,592.4 C1405.4,604.7 1407.8,621.3 1408.7,627.1" stroke="#080808" stroke-width="6.34" />
<path d="M1400.7,630.7 C1387.8,632.3 1351.0,637.3 1323.3,640.4 C1295.6,643.6 1265.3,645.8 1234.4,649.3 C1203.6,652.9 1154.4,659.7 1138.4,661.8" stroke="#080808" stroke-width="6.34" />
<path d="M1119.8,556.9 C1120.7,555.9 1123.5,544.7 1125.1,550.7 C1126.7,556.6 1127.9,578.4 1129.6,592.4 C1131.2,606.5 1133.4,623.7 1134.9,635.1 C1136.4,646.5 1137.9,656.6 1138.4,660.9" stroke="#080808" stroke-width="6.34" />
<path d="M1163.3,581.8 C1163.5,584.7 1163.6,593.0 1164.2,599.6 C1164.8,606.1 1163.5,618.5 1166.9,620.9 C1170.3,623.3 1177.6,616.7 1184.7,613.8 C1191.8,610.8 1205.4,604.9 1209.6,603.1" stroke="#080808" stroke-width="6.34" />
<path d="M1223.8,578.2 C1224.2,580.9 1225.6,588.9 1226.4,594.2 C1227.3,599.6 1226.0,608.4 1229.1,610.2 C1232.2,612.0 1240.1,606.5 1245.1,604.9 C1250.1,603.3 1257.0,601.2 1259.3,600.4" stroke="#080808" stroke-width="6.34" />
<path d="M1275.3,619.1 C1274.9,614.7 1273.3,601.0 1272.7,592.4 C1272.1,583.9 1270.1,569.3 1271.8,567.6 C1273.4,565.8 1278.9,577.3 1282.4,581.8 C1286.0,586.2 1289.3,595.1 1293.1,594.2 C1297.0,593.3 1301.4,581.8 1305.6,576.4 C1309.7,571.1 1314.7,560.7 1318.0,562.2 C1321.3,563.7 1323.0,577.3 1325.1,585.3 C1327.2,593.3 1329.6,606.1 1330.4,610.2" stroke="#080808" stroke-width="6.34" />
<path d="M761.0,436.0 C763.5,432.3 765.5,425.0 776.0,414.0 C786.5,403.0 805.3,382.3 824.0,370.0 C842.7,357.7 867.0,347.3 888.0,340.0 C909.0,332.7 933.8,326.8 950.0,326.0 C966.2,325.2 970.8,327.7 985.0,335.0 C999.2,342.3 1021.7,358.3 1035.0,370.0 C1048.3,381.7 1058.8,395.8 1065.0,405.0 C1071.2,414.2 1070.8,421.7 1072.0,425.0" stroke="#080808" stroke-width="5.10" />
<path d="M1046.1,440.4 L1096.8,414.0 L1096.8,462.6 Z" stroke="#080808" stroke-width="5.72" stroke-linejoin="round" fill="#e0283c"/>
<path d="M521.3,426.0 C519.6,425.6 514.2,421.1 510.7,423.3 C507.1,425.6 502.0,434.4 500.0,439.3 C498.0,444.2 498.0,449.6 498.7,452.7 C499.3,455.8 500.7,459.3 504.0,458.0 C507.3,456.7 516.2,446.9 518.7,444.7" stroke="#080808" stroke-width="5.63" />
<path d="M538.7,431.3 C537.6,430.7 533.6,424.7 532.0,427.3 C530.4,430.0 528.7,443.3 529.3,447.3 C530.0,451.3 533.1,454.0 536.0,451.3 C538.9,448.7 545.8,435.8 546.7,431.3 C547.6,426.9 542.2,425.8 541.3,424.7" stroke="#080808" stroke-width="5.63" />
<path d="M554.7,444.7 C555.1,441.6 556.0,429.8 557.3,426.0 C558.7,422.2 560.4,419.2 562.7,422.0 C564.9,424.8 569.3,439.2 570.7,442.7" stroke="#080808" stroke-width="5.63" />
<path d="M579.3,406.0 C579.9,408.9 581.7,417.9 582.7,423.3 C583.7,428.8 584.9,436.1 585.3,438.7" stroke="#080808" stroke-width="5.63" />
<path d="M573.3,421.3 L593.3,414.7" stroke="#080808" stroke-width="5.63" />
<path d="M602.7,426.0 C604.4,424.4 611.8,419.6 613.3,416.7 C614.9,413.8 613.8,409.1 612.0,408.7 C610.2,408.2 604.6,410.9 602.7,414.0 C600.8,417.1 599.1,423.6 600.7,427.3 C602.2,431.1 608.6,436.4 612.0,436.7 C615.4,436.9 619.8,430.0 621.3,428.7" stroke="#080808" stroke-width="5.63" />
<path d="M630.7,416.7 L653.3,430.7" stroke="#080808" stroke-width="5.63" />
<path d="M651.3,410.7 C649.7,413.2 644.1,420.7 641.3,426.0 C638.6,431.3 635.8,439.9 634.7,442.7" stroke="#080808" stroke-width="5.63" />
<path d="M671.3,390.0 C672.0,393.3 674.0,403.6 675.3,410.0 C676.7,416.4 678.7,425.6 679.3,428.7" stroke="#080808" stroke-width="5.63" />
<path d="M661.3,405.3 L691.3,396.0" stroke="#080808" stroke-width="5.63" />
<path d="M530.3,492.0 C541.4,489.9 569.8,482.8 596.7,479.4 C623.5,476.1 675.7,473.1 691.5,471.9" stroke="#080808" stroke-width="5.10" />
<path d="M691.5,471.9 C693.5,471.9 699.0,469.9 703.3,471.9 C707.7,473.8 715.2,478.6 717.6,483.7 C719.9,488.8 719.9,494.8 717.6,502.7 C715.2,510.6 707.3,522.4 703.3,531.1 C699.4,539.8 696.2,543.0 693.9,554.8 C691.5,566.7 690.3,586.4 689.1,602.2 C687.9,618.0 686.0,636.2 686.7,649.6 C687.5,663.1 692.7,677.3 693.9,682.8" stroke="#080808" stroke-width="5.10" />
<path d="M530.3,492.0 C527.9,493.4 518.8,495.8 516.1,500.3 C513.3,504.8 511.7,513.7 513.7,519.3 C515.7,524.8 522.8,532.7 527.9,533.5 C533.1,534.3 538.2,525.4 544.5,524.0 C550.8,522.6 562.3,525.0 565.9,525.2" stroke="#080808" stroke-width="5.10" />
<path d="M546.9,509.8 C548.1,511.0 552.0,513.7 554.0,516.9 C556.0,520.0 557.2,522.4 558.7,528.7 C560.3,535.1 563.5,544.5 563.5,554.8 C563.5,565.1 563.1,576.5 558.7,590.4 C554.4,604.2 544.1,624.0 537.4,637.8 C530.7,651.6 522.8,663.1 518.4,673.3 C514.1,683.6 512.9,690.9 511.3,699.4 C509.8,707.9 509.4,720.1 509.0,724.3" stroke="#080808" stroke-width="5.10" />
<path d="M511.3,727.9 C513.7,731.0 519.6,743.1 525.6,746.8 C531.5,750.6 541.0,752.7 546.9,750.4 C552.8,748.0 559.1,737.5 561.1,732.6 C563.1,727.7 559.1,722.7 558.7,720.7" stroke="#080808" stroke-width="5.10" />
<path d="M558.7,720.7 C567.0,718.4 588.4,712.0 608.5,706.5 C628.7,701.0 664.6,691.1 679.6,687.6 C694.6,684.0 694.2,684.4 698.6,685.2 C702.9,686.0 704.9,686.4 705.7,692.3 C706.5,698.2 706.9,714.0 703.3,720.7 C699.8,727.5 687.5,730.6 684.4,732.6" stroke="#080808" stroke-width="5.10" />
<path d="M556.4,759.9 C565.1,758.1 587.2,753.7 608.5,749.2 C629.9,744.6 671.7,735.4 684.4,732.6" stroke="#080808" stroke-width="5.10" />
<path d="M686.7,697.0 C687.9,698.6 693.1,701.0 693.9,706.5 C694.6,712.0 691.9,726.3 691.5,730.2" stroke="#080808" stroke-width="5.10" />
<path d="M641.7,661.5 C647.2,660.3 667.0,656.7 674.9,654.4 C682.8,652.0 686.7,648.4 689.1,647.3" stroke="#080808" stroke-width="5.10" />
<path d="M589.6,547.7 C591.1,546.5 593.5,541.2 599.0,540.6 C604.6,540.0 616.4,544.9 622.7,544.1 C629.1,543.4 630.8,537.8 637.0,535.9 C643.1,533.9 655.7,532.9 659.5,532.3" stroke="#080808" stroke-width="5.10" />
<path d="M596.7,569.0 L615.6,566.7" stroke="#080808" stroke-width="5.10" />
<path d="M629.9,567.9 C631.8,568.2 636.2,570.8 641.7,570.2 C647.2,569.6 659.5,565.3 663.0,564.3" stroke="#080808" stroke-width="5.10" />
<path d="M577.7,599.9 L587.2,597.5" stroke="#080808" stroke-width="5.10" />
<path d="M616.8,602.2 L651.2,593.9" stroke="#080808" stroke-width="5.10" />
<path d="M568.2,646.1 C573.0,644.7 587.0,639.8 596.7,637.8 C606.3,635.8 621.4,634.8 626.3,634.2" stroke="#080808" stroke-width="5.10" />
<path d="M561.1,685.2 L608.5,669.8" stroke="#080808" stroke-width="5.10" />
<path d="M56.9,393.8 C58.6,393.5 42.1,394.4 67.4,391.7 C92.8,389.1 161.4,382.7 208.9,378.0 C256.4,373.3 325.4,366.1 352.4,363.6 C379.5,361.2 367.0,362.2 371.4,363.2 C375.8,364.2 377.3,366.4 378.8,369.6 C380.4,372.7 379.4,372.4 380.9,382.2 C382.5,392.1 385.7,411.1 388.3,428.7 C391.0,446.3 394.3,467.7 396.8,487.8 C399.2,507.8 402.1,538.8 403.1,549.0" stroke="#080808" stroke-width="5.28" />
<path d="M403.1,549.0 C377.8,550.8 301.8,555.3 251.1,559.6 C200.4,563.8 124.4,571.9 99.1,574.3" stroke="#080808" stroke-width="5.28" />
<path d="M56.9,393.8 C60.8,408.8 73.1,453.5 80.1,483.6 C87.1,513.6 95.9,559.2 99.1,574.3" stroke="#080808" stroke-width="5.28" />
<path d="M130.3,436.7 C129.7,435.0 128.5,429.3 126.7,426.7 C124.9,424.1 122.0,422.0 119.6,421.3 C117.2,420.6 114.0,421.1 112.5,422.5 C111.0,423.9 110.9,425.5 110.7,429.6 C110.5,433.8 110.6,442.0 111.3,447.4 C112.0,452.8 113.3,459.0 114.9,462.2 C116.5,465.4 118.5,466.3 120.8,466.4 C123.1,466.5 125.2,465.3 128.5,462.8 C131.8,460.3 137.2,456.1 140.4,451.6 C143.6,447.1 146.6,440.9 147.5,435.6 C148.4,430.3 147.4,423.8 145.7,419.6 C144.0,415.5 140.9,412.5 137.4,410.7 C133.9,408.9 128.6,408.4 124.4,408.9 C120.2,409.4 116.2,411.1 112.5,413.6 C108.8,416.1 104.5,420.0 101.9,423.7 C99.3,427.4 97.3,432.7 97.1,435.6 C96.9,438.5 98.9,440.1 100.7,440.9 C102.5,441.7 105.1,440.8 107.8,440.3 C110.5,439.8 115.2,438.3 116.7,437.9" stroke="#080808" stroke-width="4.93" />
<path d="M151.1,441.5 C151.3,444.8 151.0,459.6 152.2,461.0 C153.3,462.4 156.0,453.2 158.0,450.0 C160.0,446.8 161.6,444.1 164.1,441.5 C166.6,438.9 170.5,435.2 173.0,434.4 C175.5,433.6 177.5,434.9 178.9,436.7 C180.3,438.5 181.2,442.4 181.3,445.0 C181.4,447.6 178.6,452.0 179.3,452.0 C180.0,452.0 184.3,446.2 185.3,445.0" stroke="#080808" stroke-width="4.93" />
<path d="M173.5,417.8 L185.4,416.0" stroke="#080808" stroke-width="4.93" />
<path d="M214.9,428.8 C213.7,429.7 210.2,431.7 207.8,434.1 C205.4,436.5 201.7,440.5 200.7,443.0 C199.7,445.5 200.4,448.3 201.6,449.2 C202.8,450.1 205.0,449.9 207.8,448.3 C210.6,446.7 215.4,441.8 218.4,439.4 C221.4,437.0 224.4,435.0 225.6,434.1" stroke="#080808" stroke-width="4.93" />
<path d="M225.6,434.1 C225.7,435.0 226.3,435.5 226.4,439.4 C226.5,443.2 227.0,451.3 226.4,457.2 C225.8,463.1 225.3,469.6 222.9,474.9 C220.5,480.2 215.9,487.1 212.2,488.8 C208.5,490.5 203.5,487.2 200.7,484.9 C197.9,482.6 195.6,478.3 195.3,475.0 C195.0,471.7 198.3,466.8 198.9,465.2" stroke="#080808" stroke-width="4.93" />
<path d="M230.9,413.4 L231.2,413.9" stroke="#080808" stroke-width="7.48" />
<path d="M238.0,428.8 C237.8,430.3 236.5,434.7 237.1,437.7 C237.7,440.7 240.8,445.1 241.6,446.6" stroke="#080808" stroke-width="4.93" />
<path d="M253.1,422.6 C253.6,425.4 255.1,433.6 255.8,439.4 C256.6,445.2 256.0,457.2 257.6,457.2 C259.2,457.2 262.8,444.1 265.6,439.4 C268.4,434.7 272.2,430.3 274.4,428.8 C276.6,427.3 278.4,428.1 278.9,430.6 C279.3,433.1 277.1,440.2 277.1,443.9 C277.1,447.6 277.7,452.4 278.9,452.8 C280.1,453.2 282.0,448.2 284.2,446.6 C286.4,445.0 289.7,444.8 292.2,443.0 C294.7,441.2 298.6,437.7 299.3,435.9 C300.1,434.1 298.2,432.0 296.7,432.3 C295.2,432.6 291.1,435.0 290.4,437.7 C289.6,440.4 290.0,446.8 292.2,448.3 C294.4,449.8 300.1,447.8 303.8,446.6 C307.5,445.4 310.7,445.4 314.4,441.2 C318.1,437.0 322.7,427.9 326.0,421.7 C329.3,415.5 332.4,407.5 334.0,403.9 C335.6,400.3 336.7,400.0 335.8,400.3 C334.9,400.6 330.8,402.1 328.7,405.7 C326.6,409.3 324.1,416.1 323.3,421.7 C322.6,427.3 322.7,434.7 324.2,439.4 C325.7,444.1 329.5,448.3 332.2,450.1 C334.9,451.9 338.9,450.1 340.2,450.1" stroke="#080808" stroke-width="4.93" />
<path d="M126.7,512.3 C127.1,515.2 128.2,523.4 129.0,530.0 C129.8,536.6 130.9,548.1 131.3,551.7" stroke="#080808" stroke-width="4.93" />
<path d="M118.7,509.0 C120.0,508.2 123.2,505.2 126.7,504.3 C130.2,503.4 136.4,502.8 140.0,503.7 C143.6,504.6 146.8,507.3 148.0,509.7 C149.2,512.1 149.2,515.5 147.3,518.3 C145.4,521.1 141.8,523.5 136.7,526.3 C131.6,529.1 120.0,533.5 116.7,535.0" stroke="#080808" stroke-width="4.93" />
<path d="M161.3,531.0 C162.2,532.8 165.1,538.5 166.7,541.7 C168.3,544.9 169.0,551.4 170.7,550.3 C172.4,549.2 174.6,539.3 176.7,535.0 C178.8,530.7 180.9,527.1 183.3,524.3 C185.7,521.5 189.1,519.4 191.3,518.3 C193.5,517.2 194.7,518.2 196.7,517.7 C198.7,517.2 201.3,514.3 203.3,515.0 C205.3,515.7 208.1,518.6 208.7,521.7 C209.3,524.8 208.7,529.7 206.7,533.7 C204.7,537.7 199.1,544.4 196.7,545.7 C194.2,547.0 192.9,544.6 192.0,541.7 C191.1,538.8 189.8,530.3 191.3,528.3 C192.9,526.3 199.6,529.5 201.3,529.7" stroke="#080808" stroke-width="4.93" />
<path d="M219.4,523.4 C220.0,524.5 221.9,527.8 223.0,530.0 C224.1,532.2 224.1,537.9 225.7,536.7 C227.3,535.5 230.8,526.0 232.7,522.7 C234.6,519.5 235.9,517.0 237.3,517.2 C238.7,517.4 239.8,521.1 241.0,524.0 C242.2,526.9 242.7,534.5 244.3,534.3 C245.9,534.1 248.8,525.7 250.6,522.7 C252.4,519.7 253.8,516.2 255.2,516.4 C256.6,516.6 258.1,521.0 259.0,524.0 C259.9,527.0 259.2,534.1 260.7,534.3 C262.1,534.5 265.4,527.7 267.7,525.0 C270.0,522.3 273.5,519.2 274.7,518.0" stroke="#080808" stroke-width="4.93" />
<path d="M274.7,518.0 C275.2,521.1 276.8,530.4 277.8,536.7 C278.8,543.1 280.4,552.9 280.9,556.1" stroke="#080808" stroke-width="4.93" />
<path d="M278.0,535.0 C278.5,532.8 279.7,525.9 281.0,522.0 C282.3,518.1 283.9,513.2 285.6,511.8 C287.3,510.4 290.1,510.4 291.0,513.3 C291.9,516.1 291.9,524.8 291.0,528.9 C290.1,533.0 287.9,536.8 285.6,538.2 C283.3,539.6 278.4,537.5 277.0,537.4" stroke="#080808" stroke-width="4.93" />
<path d="M299.6,497.8 C300.5,500.4 303.1,508.1 305.0,513.3 C306.9,518.5 309.5,525.5 311.2,528.9 C312.9,532.3 313.9,533.6 315.1,533.6 C316.3,533.6 317.7,530.6 318.2,528.9 C318.7,527.2 318.2,524.3 318.2,523.4" stroke="#080808" stroke-width="4.93" />
<path d="M298.8,511.8 C300.5,511.7 304.6,511.8 308.9,511.0 C313.2,510.2 321.8,507.8 324.4,507.1" stroke="#080808" stroke-width="4.93" />
<path d="M168.0,655.0 C171.0,655.3 172.3,658.5 186.0,657.0 C199.7,655.5 222.7,649.3 250.0,646.0 C277.3,642.7 321.7,638.8 350.0,637.0 C378.3,635.2 405.0,636.0 420.0,635.0 C435.0,634.0 436.7,631.7 440.0,631.0" stroke="#080808" stroke-width="5.10" />
<path d="M441.0,606.0 L482.0,630.0 L442.0,668.0 Z" stroke="#080808" stroke-width="5.72" stroke-linejoin="round" fill="#ea6670"/>
<path d="M434.0,602.0 L442.0,602.0" stroke="#080808" stroke-width="5.72" />
<path d="M871.2,827.1 C879.2,820.0 903.0,798.7 919.3,784.7 C935.7,770.8 961.1,750.2 969.4,743.3" stroke="#080808" stroke-width="5.81" />
<path d="M969.4,743.3 C978.4,750.6 1005.0,772.1 1023.3,786.7 C1041.6,801.3 1068.3,822.0 1079.2,831.0 C1090.1,840.0 1087.2,839.0 1088.8,840.6" stroke="#080808" stroke-width="5.81" />
<path d="M871.2,836.7 C879.2,845.4 903.0,871.4 919.3,888.7 C935.7,906.1 961.1,932.1 969.4,940.7" stroke="#080808" stroke-width="5.81" />
<path d="M1072.0,843.0 C1069.2,846.3 1063.7,853.8 1055.0,863.0 C1046.3,872.2 1029.2,888.8 1020.0,898.0 C1010.8,907.2 1008.2,910.8 1000.0,918.0 C991.8,925.2 975.8,937.2 971.0,941.0" stroke="#080808" stroke-width="5.81" />
<path d="M959.8,739.5 L984.8,741.4" stroke="#080808" stroke-width="5.81" />
<path d="M969.4,743.3 C971.3,741.2 977.4,733.9 981.0,730.8 C984.5,727.8 989.0,726.0 990.6,725.0" stroke="#080808" stroke-width="5.81" />
<path d="M907.8,823.3 C907.8,825.2 907.8,830.6 907.8,834.8 C907.8,839.0 907.8,846.0 907.8,848.3" stroke="#080808" stroke-width="6.69" />
<path d="M905.9,823.3 C908.1,822.5 916.4,819.6 919.3,818.4 C922.2,817.3 922.5,816.8 923.2,816.5" stroke="#080808" stroke-width="6.69" />
<path d="M907.8,834.8 L921.3,832.9" stroke="#080808" stroke-width="6.69" />
<path d="M931.9,814.6 L933.2,814.0" stroke="#080808" stroke-width="7.92" />
<path d="M936.7,831.0 L938.6,842.5" stroke="#080808" stroke-width="6.69" />
<path d="M948.2,842.5 C948.5,840.3 948.5,831.6 950.1,829.0 C951.8,826.5 955.6,824.9 957.9,827.1 C960.1,829.4 962.7,840.0 963.6,842.5" stroke="#080808" stroke-width="6.69" />
<path d="M971.3,807.9 L972.5,807.5" stroke="#080808" stroke-width="7.92" />
<path d="M973.3,825.2 L975.2,838.7" stroke="#080808" stroke-width="6.69" />
<path d="M998.3,819.4 C996.0,819.1 987.4,815.9 984.8,817.5 C982.2,819.1 981.0,826.5 982.9,829.0 C984.8,831.6 994.8,829.7 996.4,832.9 C998.0,836.1 993.8,846.0 992.5,848.3 C991.2,850.5 989.3,846.7 988.7,846.4" stroke="#080808" stroke-width="6.69" />
<path d="M1011.8,811.7 C1012.3,813.6 1013.7,819.4 1014.7,823.3 C1015.6,827.1 1017.1,832.9 1017.6,834.8" stroke="#080808" stroke-width="6.69" />
<path d="M1015.2,826.1 C1016.1,825.2 1018.8,821.0 1020.4,820.4 C1022.0,819.7 1023.9,819.7 1024.9,822.3 C1025.8,824.9 1026.0,833.5 1026.2,835.8" stroke="#080808" stroke-width="6.69" />
<path d="M957.9,875.3 C959.1,874.0 962.3,868.5 965.6,867.6 C968.8,866.6 974.9,867.2 977.1,869.5 C979.4,871.7 981.0,877.2 979.0,881.0 C977.1,884.9 967.8,890.7 965.6,892.6" stroke="#080808" stroke-width="6.69" />
<path d="M971.3,909.9 L972.5,910.3" stroke="#080808" stroke-width="8.80" />
<path d="M1230.0,679.6 C1230.1,685.4 1232.6,702.2 1230.7,714.4 C1228.9,726.7 1223.3,742.1 1218.9,753.0 C1214.4,763.8 1210.7,771.0 1204.1,779.6 C1197.4,788.3 1189.5,796.9 1178.9,804.8 C1168.3,812.7 1146.8,823.3 1140.4,827.0" stroke="#080808" stroke-width="5.10" />
<path d="M1124.1,803.3 L1107.8,834.4 L1141.9,844.8 Z" stroke="#080808" stroke-width="5.72" stroke-linejoin="round" fill="#e0283c"/>
<path d="M885.4,911.5 C883.2,912.2 876.7,914.3 872.0,915.5 C867.3,916.7 862.3,917.9 857.0,918.5 C851.7,919.1 846.5,919.7 840.0,919.0 C833.5,918.3 825.2,916.6 818.0,914.5 C810.8,912.4 803.5,909.3 796.7,906.3 C789.9,903.3 783.5,900.0 777.0,896.5 C770.5,893.0 764.2,889.6 757.5,885.4 C750.8,881.2 743.5,876.3 737.0,871.5 C730.5,866.7 724.5,862.7 718.3,856.7 C712.1,850.8 704.8,841.9 700.0,835.8 C695.2,829.7 691.3,822.7 689.6,820.1" stroke="#080808" stroke-width="5.10" />
<path d="M663.7,786.3 Q690,786 720.0,805.6 L709.6,811.5 Q675,815 653.3,829.3 Q672,808 663.7,786.3 Z" stroke="#080808" stroke-width="5.72" stroke-linejoin="round" fill="#e0283c"/>
<path d="M717.0,946.3 C717.2,943.3 717.5,934.4 717.8,928.5 C718.0,922.6 715.7,908.5 718.5,910.7 C721.4,913.0 730.9,941.4 734.8,941.9 C738.8,942.3 741.0,918.4 742.2,913.7" stroke="#080808" stroke-width="5.28" />
<path d="M764.4,916.7 C766.4,917.4 774.6,917.9 776.3,921.1 C778.0,924.3 775.8,932.0 774.8,935.9 C773.8,939.9 773.3,943.6 770.4,944.8 C767.4,946.0 759.3,946.3 757.0,943.3 C754.8,940.4 755.8,931.5 757.0,927.0 C758.3,922.6 763.2,918.4 764.4,916.7" stroke="#080808" stroke-width="5.28" />
<path d="M1008.9,976.7 C1009.3,977.1 1010.8,973.0 1011.3,979.1 C1011.8,985.2 1011.7,1002.5 1011.9,1013.3 C1012.1,1024.1 1012.5,1038.8 1012.6,1043.9" stroke="#080808" stroke-width="5.10" />
<path d="M983.2,1053.1 L1036.4,1043.9 L1022.9,1081.8 Z" stroke="#080808" stroke-width="8.36" stroke-linejoin="round" fill="#6fc05e"/>
<path d="M1061.4,969.3 C1062.7,970.4 1066.3,973.4 1068.8,975.4 C1071.2,977.5 1074.9,980.5 1076.1,981.6" stroke="#080808" stroke-width="5.98" />
<path d="M1083.4,959.6 C1083.0,963.0 1081.2,973.4 1081.0,980.3 C1080.8,987.3 1082.0,997.6 1082.2,1001.1" stroke="#080808" stroke-width="5.98" />
<path d="M1121.3,963.2 C1119.3,962.8 1112.0,958.5 1109.1,960.8 C1106.3,963.0 1104.8,971.6 1104.2,976.7 C1103.6,981.8 1104.2,988.3 1105.4,991.3 C1106.7,994.4 1108.9,996.0 1111.6,995.0 C1114.2,994.0 1119.7,986.9 1121.3,985.2" stroke="#080808" stroke-width="5.98" />
<path d="M1109.1,977.9 L1125.0,969.3" stroke="#080808" stroke-width="5.98" />
<path d="M1148.2,954.7 C1147.0,956.5 1141.7,962.2 1140.9,965.7 C1140.1,969.1 1140.9,972.2 1143.3,975.4 C1145.8,978.7 1153.9,982.4 1155.6,985.2 C1157.2,988.1 1154.5,991.3 1153.1,992.6 C1151.7,993.8 1148.0,992.6 1147.0,992.6" stroke="#080808" stroke-width="5.98" />
<path d="M798.3,1136.6 C799.6,1134.6 803.5,1125.7 806.1,1124.8 C808.7,1124.0 779.1,1132.7 813.9,1131.4 C848.8,1130.1 953.2,1122.9 1015.0,1117.0 C1076.8,1111.1 1150.8,1100.2 1184.7,1096.1 C1218.6,1092.0 1212.6,1092.2 1218.6,1092.2 C1224.7,1092.2 1220.8,1095.5 1221.3,1096.1" stroke="#080808" stroke-width="6.69" />
<path d="M1221.3,1096.1 C1221.7,1109.2 1222.1,1154.0 1223.9,1174.4 C1225.6,1194.9 1230.4,1211.4 1231.7,1218.8" stroke="#080808" stroke-width="6.69" />
<path d="M1231.7,1218.8 C1217.3,1219.7 1186.0,1222.7 1145.5,1224.0 C1105.1,1225.4 1044.1,1221.9 988.9,1226.7 C933.6,1231.4 843.1,1248.4 813.9,1252.8" stroke="#080808" stroke-width="6.69" />
<path d="M813.9,1132.7 C814.8,1139.6 819.2,1154.4 819.2,1174.4 C819.2,1194.5 814.8,1239.7 813.9,1252.8" stroke="#080808" stroke-width="6.69" />
<path d="M866.7,1179.3 C867.3,1181.7 869.0,1188.3 870.2,1193.3 C871.3,1198.4 873.1,1206.9 873.7,1209.7" stroke="#080808" stroke-width="6.51" />
<path d="M865.5,1181.7 C867.6,1180.1 875.0,1173.9 878.3,1172.3 C881.6,1170.8 883.4,1171.6 885.3,1172.3 C887.3,1173.1 889.2,1176.2 890.0,1177.0" stroke="#080808" stroke-width="6.51" />
<path d="M894.7,1193.3 C897.4,1192.2 909.1,1189.4 911.0,1186.3 C912.9,1183.2 909.1,1175.4 906.3,1174.7 C903.6,1173.9 896.2,1177.4 894.7,1181.7 C893.1,1185.9 894.7,1196.1 897.0,1200.3 C899.3,1204.6 904.4,1206.9 908.7,1207.3 C912.9,1207.7 920.3,1203.4 922.7,1202.7" stroke="#080808" stroke-width="6.51" />
<path d="M960.0,1172.3 C957.3,1171.9 946.8,1168.8 943.7,1170.0 C940.6,1171.2 939.0,1175.8 941.3,1179.3 C943.7,1182.8 955.7,1187.5 957.7,1191.0 C959.6,1194.5 954.9,1198.8 953.0,1200.3 C951.1,1201.9 947.2,1200.3 946.0,1200.3" stroke="#080808" stroke-width="6.51" />
<path d="M976.3,1172.3 C977.1,1176.6 979.8,1189.4 981.0,1198.0 C982.2,1206.6 982.9,1219.4 983.3,1223.7" stroke="#080808" stroke-width="6.51" />
<path d="M976.3,1174.7 C979.1,1172.7 987.6,1163.8 992.7,1163.0 C997.7,1162.2 1004.7,1165.7 1006.7,1170.0 C1008.6,1174.3 1007.4,1184.8 1004.3,1188.7 C1001.2,1192.6 990.7,1192.6 988.0,1193.3" stroke="#080808" stroke-width="6.51" />
<path d="M1013.7,1165.3 C1012.5,1167.3 1006.7,1172.3 1006.7,1177.0 C1006.7,1181.7 1010.6,1192.2 1013.7,1193.3 C1016.8,1194.5 1023.4,1188.3 1025.3,1184.0 C1027.3,1179.7 1027.3,1170.8 1025.3,1167.7 C1023.4,1164.6 1015.6,1165.7 1013.7,1165.3" stroke="#080808" stroke-width="6.51" />
<path d="M1034.7,1158.3 C1035.4,1161.1 1037.0,1170.0 1039.3,1174.7 C1041.7,1179.3 1044.4,1187.1 1048.7,1186.3 C1052.9,1185.6 1061.5,1174.3 1065.0,1170.0 C1068.5,1165.7 1067.7,1159.9 1069.7,1160.7 C1071.6,1161.4 1075.1,1170.0 1076.7,1174.7 C1078.2,1179.3 1078.6,1186.3 1079.0,1188.7" stroke="#080808" stroke-width="6.51" />
<path d="M1114.0,1146.7 C1110.9,1147.8 1098.8,1150.6 1095.3,1153.7 C1091.8,1156.8 1089.9,1161.8 1093.0,1165.3 C1096.1,1168.8 1110.1,1171.2 1114.0,1174.7 C1117.9,1178.2 1117.1,1183.6 1116.3,1186.3 C1115.6,1189.1 1110.5,1190.2 1109.3,1191.0" stroke="#080808" stroke-width="6.51" />
<path d="M1109.3,1191.0 C1112.8,1189.8 1122.9,1187.5 1130.3,1184.0 C1137.7,1180.5 1148.2,1174.3 1153.7,1170.0 C1159.1,1165.7 1163.4,1160.7 1163.0,1158.3 C1162.6,1156.0 1156.0,1154.8 1151.3,1156.0 C1146.7,1157.2 1138.5,1161.4 1135.0,1165.3 C1131.5,1169.2 1129.2,1175.4 1130.3,1179.3 C1131.5,1183.2 1134.2,1189.4 1142.0,1188.7 C1149.8,1187.9 1171.2,1177.0 1177.0,1174.7" stroke="#080808" stroke-width="6.51" /></g>
</svg>
</body></html>
